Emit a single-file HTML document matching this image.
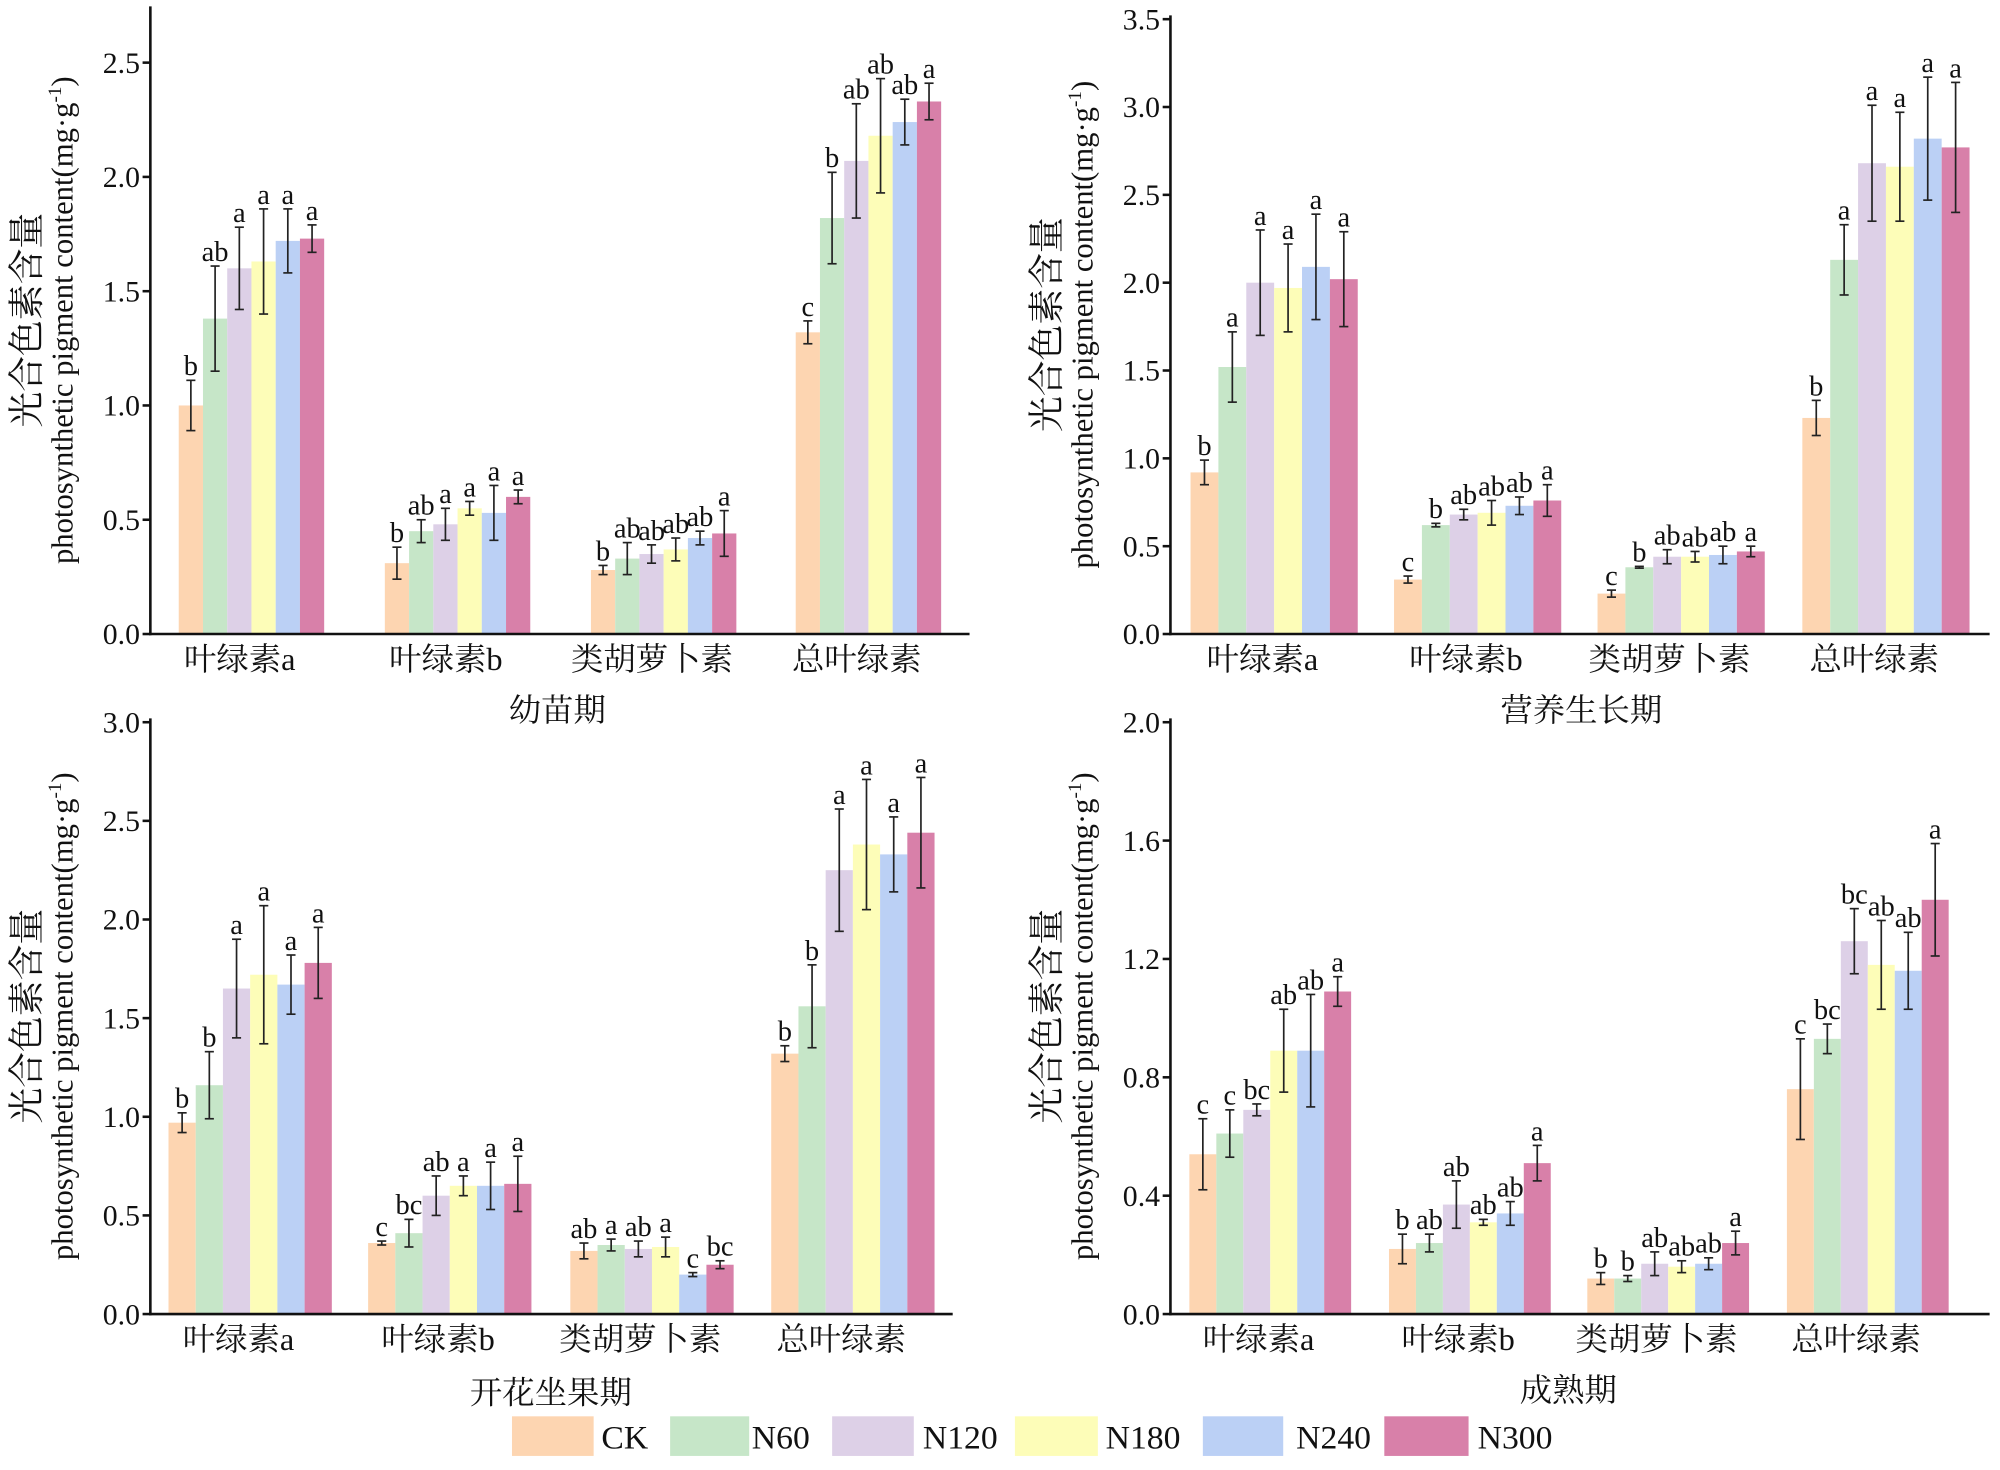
<!DOCTYPE html>
<html><head><meta charset="utf-8"><style>
html,body{margin:0;padding:0;background:#fff}
svg{display:block}
text{font-family:"Liberation Serif","Noto Serif CJK SC",serif;fill:#111}
</style></head><body>
<svg id="chart" width="2000" height="1470" viewBox="0 0 1543 1150" preserveAspectRatio="none" font-family="Liberation Serif, Noto Serif CJK SC, serif" xmlns="http://www.w3.org/2000/svg"></svg>
<script>
const categories = ["叶绿素a","叶绿素b","类胡萝卜素","总叶绿素"];
const seriesNames = ["CK","N60","N120","N180","N240","N300"];
const colors = ["#fdd5b1","#c6e6c8","#ddd0e7","#fdfdb8","#bbd0f5","#d880a9"];
// seedling
const seedVals = [[1.00,1.38,1.60,1.63,1.72,1.73],[0.31,0.45,0.48,0.55,0.53,0.60],[0.28,0.33,0.35,0.37,0.42,0.44],[1.32,1.82,2.07,2.18,2.24,2.33]];
const seedErr = [[0.11,0.23,0.18,0.23,0.14,0.06],[0.07,0.05,0.07,0.03,0.12,0.03],[0.02,0.07,0.04,0.05,0.03,0.10],[0.05,0.20,0.25,0.25,0.10,0.08]];
const seedSig = [["b","ab","a","a","a","a"],["b","ab","a","a","a","a"],["b","ab","ab","ab","ab","a"],["c","b","ab","ab","ab","a"]];
// vegetative
const vegVals = [[0.92,1.52,2.00,1.97,2.09,2.02],[0.31,0.62,0.68,0.69,0.73,0.76],[0.23,0.38,0.44,0.44,0.45,0.47],[1.23,2.13,2.68,2.66,2.82,2.77]];
const vegErr = [[0.07,0.20,0.30,0.25,0.30,0.27],[0.02,0.01,0.03,0.07,0.05,0.09],[0.02,0.005,0.04,0.03,0.05,0.03],[0.10,0.20,0.33,0.31,0.35,0.37]];
const vegSig = [["b","a","a","a","a","a"],["c","b","ab","ab","ab","a"],["c","b","ab","ab","ab","a"],["b","a","a","a","a","a"]];
// flowering
const flowVals = [[0.97,1.16,1.65,1.72,1.67,1.78],[0.36,0.41,0.60,0.65,0.65,0.66],[0.32,0.35,0.33,0.34,0.20,0.25],[1.32,1.56,2.25,2.38,2.33,2.44]];
const flowErr = [[0.05,0.17,0.25,0.35,0.15,0.18],[0.01,0.07,0.10,0.05,0.12,0.14],[0.04,0.03,0.04,0.05,0.01,0.02],[0.04,0.21,0.31,0.33,0.19,0.28]];
const flowSig = [["b","b","a","a","a","a"],["c","bc","ab","a","a","a"],["ab","a","ab","a","c","bc"],["b","b","a","a","a","a"]];
// mature
const matVals = [[0.54,0.61,0.69,0.89,0.89,1.09],[0.22,0.24,0.37,0.31,0.34,0.51],[0.12,0.12,0.17,0.16,0.17,0.24],[0.76,0.93,1.26,1.18,1.16,1.40]];
const matErr = [[0.12,0.08,0.02,0.14,0.19,0.05],[0.05,0.03,0.08,0.01,0.04,0.06],[0.02,0.01,0.04,0.02,0.02,0.04],[0.17,0.05,0.11,0.15,0.13,0.19]];
const matSig = [["c","c","bc","ab","ab","a"],["b","ab","ab","ab","ab","a"],["b","b","ab","ab","ab","a"],["c","bc","bc","ab","ab","a"]];
const seedTicks = ["0.0","0.5","1.0","1.5","2.0","2.5"];
const vegTicks = ["0.0","0.5","1.0","1.5","2.0","2.5","3.0","3.5"];
const flowTicks = ["0.0","0.5","1.0","1.5","2.0","2.5","3.0"];
const matTicks = ["0.0","0.4","0.8","1.2","1.6","2.0"];

const NS="http://www.w3.org/2000/svg";
const svg=document.getElementById('chart');
function mk(tag,attrs,parent,txt){const e=document.createElementNS(NS,tag);for(const k in attrs)e.setAttribute(k,attrs[k]);if(txt!==undefined)e.textContent=txt;(parent||svg).appendChild(e);return e;}

const panels=[
 {id:"seedling",title:"幼苗期",vals:seedVals,err:seedErr,sig:seedSig,ticks:seedTicks,x0:116,x1:748,y0:496,yTop:5,topTickY:49,topTick:2.5,centers:[194,353,512,670],bw:18.7,tx:430,ty:556},
 {id:"vegetative",title:"营养生长期",vals:vegVals,err:vegErr,sig:vegSig,ticks:vegTicks,x0:903,x1:1535,y0:496,yTop:12,topTickY:15,topTick:3.5,centers:[983,1140,1297,1455],bw:21.5,tx:1220,ty:556},
 {id:"flowering",title:"开花坐果期",vals:flowVals,err:flowErr,sig:flowSig,ticks:flowTicks,x0:116,x1:735,y0:1028,yTop:562,topTickY:565,topTick:3.0,centers:[193,347,503,658],bw:21,tx:425,ty:1090},
 {id:"mature",title:"成熟期",vals:matVals,err:matErr,sig:matSig,ticks:matTicks,x0:903,x1:1535,y0:1028,yTop:562,topTickY:565,topTick:2.0,centers:[980,1134,1287,1441],bw:20.8,tx:1210,ty:1088}
];

panels.forEach(p=>{
  const g=mk('g',{});
  
  
  const yScale=v=>p.y0-(v/p.topTick)*(p.y0-p.topTickY);
  p.vals.forEach((row,ci)=>{
    row.forEach((v,si)=>{
      const x=p.centers[ci]-3*p.bw+si*p.bw;
      const r=mk('rect',{x:x,y:yScale(v),width:p.bw,height:p.y0-yScale(v),fill:colors[si]},g);
      
      
      const cx=x+p.bw/2, e=p.err[ci][si];
      const yt=yScale(v+e), yb=yScale(v-e);
      mk('line',{x1:cx,x2:cx,y1:yt,y2:yb,stroke:'#222','stroke-width':1.3},g);
      mk('line',{x1:cx-3.5,x2:cx+3.5,y1:yt,y2:yt,stroke:'#222','stroke-width':1.3},g);
      mk('line',{x1:cx-3.5,x2:cx+3.5,y1:yb,y2:yb,stroke:'#222','stroke-width':1.3},g);
      const t=mk('text',{x:cx,y:yt-4,'text-anchor':'middle','font-size':22},g,p.sig[ci][si]);
      
      
    });
  });
  mk('line',{x1:p.x0,x2:p.x0,y1:p.yTop,y2:p.y0+1,stroke:'#111','stroke-width':2},g);
  mk('line',{x1:p.x0-1,x2:p.x1,y1:p.y0,y2:p.y0,stroke:'#111','stroke-width':2},g);
  p.ticks.forEach(tk=>{
    const y=yScale(parseFloat(tk));
    mk('line',{x1:p.x0-6,x2:p.x0,y1:y,y2:y,stroke:'#111','stroke-width':2},g);
    const t=mk('text',{x:p.x0-8,y:y+8,'text-anchor':'end','font-size':23},g,tk);
    
    
  });
  categories.forEach((c,ci)=>{
    const t=mk('text',{x:p.centers[ci]-9,y:p.y0+28,'text-anchor':'middle','font-size':25},g,c);
    
    
  });
  const cy=(p.y0+p.yTop)/2;
  const t1=mk('text',{x:0,y:0,'text-anchor':'middle','font-size':28,transform:`translate(${p.x0-86},${cy}) rotate(-90)`},g,'光合色素含量');
  
  
  const t2=mk('text',{x:0,y:0,'text-anchor':'middle','font-size':24,transform:`translate(${p.x0-60},${cy}) rotate(-90)`},g);
  
  
  t2.appendChild(document.createTextNode('photosynthetic pigment content(mg·g'));
  mk('tspan',{'font-size':15,dy:-9},t2,'-1');
  mk('tspan',{dy:9},t2,')');
  const tt=mk('text',{x:p.tx,y:p.ty+8,'text-anchor':'middle','font-size':25},g,p.title);
  
  
});

const legBox=[395,517,642,783,928,1068];
const legBoxW=[63,61,63,64,62,65];
const legText=[464,580,712,853,1000,1140];
const lg=mk('g',{});


seriesNames.forEach((n,i)=>{
  const r=mk('rect',{x:legBox[i],y:1108,width:legBoxW[i],height:31,fill:colors[i]},lg);
  
  
  const t=mk('text',{x:legText[i],y:1133,'font-size':26},lg,n);
  
  
});
</script>
</body></html>
